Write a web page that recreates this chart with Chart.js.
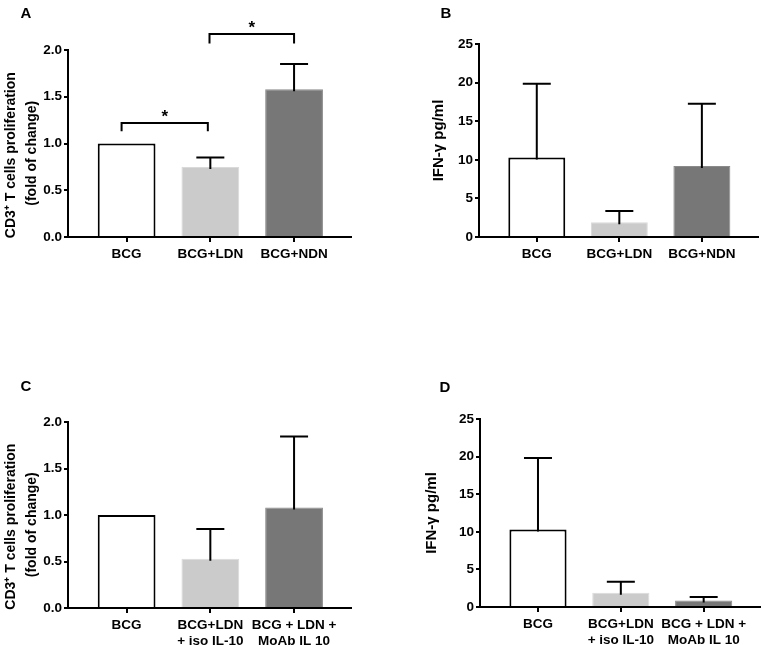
<!DOCTYPE html>
<html><head><meta charset="utf-8">
<script src="https://cdn.jsdelivr.net/npm/chart.js@4.4.1/dist/chart.umd.min.js"></script>
<style>
html,body{margin:0;padding:0;background:#fff;width:765px;height:645px;overflow:hidden}
canvas{position:absolute;left:0;top:0}
</style></head>
<body>
<canvas id="cA" width="765" height="645"></canvas>
<canvas id="cB" width="765" height="645"></canvas>
<canvas id="cC" width="765" height="645"></canvas>
<canvas id="cD" width="765" height="645"></canvas>
<script>
// ---- data ----
const catsTop = ['BCG', 'BCG+LDN', 'BCG+NDN'];
const catsBottom = [['BCG'], ['BCG+LDN', '+ iso IL-10'], ['BCG + LDN +', 'MoAb IL 10']];

const prolifA = [1.0, 0.75, 1.58];
const prolifAErr = [0, 0.10, 0.27];
const ifnB = [10.3, 1.9, 9.2];
const ifnBErr = [9.55, 1.48, 8.05];
const prolifC = [1.0, 0.53, 1.08];
const prolifCErr = [0, 0.32, 0.765];
const ifnD = [10.3, 1.9, 0.85];
const ifnDErr = [9.5, 1.45, 0.48];

// significance brackets for panel A (x in category units, y in axis units)
const bracketsA = [
  {from: 0.94, to: 1.97, y: 1.22, drop: 0.09, label: '*'},
  {from: 1.99, to: 3.0, y: 2.17, drop: 0.10, label: '*'}
];

const prolifTicks = [0, 0.5, 1.0, 1.5, 2.0];
const ifnTicks = [0, 5, 10, 15, 20, 25];

// ---- styles ----
const FONT = "'Liberation Sans', Arial, Helvetica, sans-serif";
const barFill = ['#ffffff', '#cbcbcb', '#777777'];
const barEdge = ['#000000', '#dadada', '#8a8a8a'];
const barEdgeW = [2, 1, 1];

const prolifTitle = ['CD3\u207A T cells proliferation      ', '(fold of change)     '];
const ifnTitle = 'IFN-\u03B3 pg/ml';

const panels = [
  {id: 'cA', letter: 'A', lx: 26, ly: 14, cats: catsTop, vals: prolifA, errs: prolifAErr, ticks: prolifTicks, dec: 1,
   title: prolifTitle, tsize: 14, box: {l: 68, r: 351, t: 50, b: 237}, titleLeft: 0, brackets: bracketsA},
  {id: 'cB', letter: 'B', lx: 446, ly: 14, cats: catsTop, vals: ifnB, errs: ifnBErr, ticks: ifnTicks, dec: 0,
   title: ifnTitle, tsize: 15, box: {l: 479, r: 758, t: 44, b: 237}, titleLeft: 427, brackets: []},
  {id: 'cC', letter: 'C', lx: 26, ly: 387, cats: catsBottom, vals: prolifC, errs: prolifCErr, ticks: prolifTicks, dec: 1,
   title: prolifTitle, tsize: 14, box: {l: 68, r: 351, t: 422, b: 608}, titleLeft: 0, brackets: []},
  {id: 'cD', letter: 'D', lx: 445, ly: 388, cats: catsBottom, vals: ifnD, errs: ifnDErr, ticks: ifnTicks, dec: 0,
   title: ifnTitle, tsize: 15, box: {l: 480, r: 760, t: 419, b: 607}, titleLeft: 420, brackets: []}
];

const W = 765, H = 645;

const overlayPlugin = {
  id: 'overlay',
  afterDraw(chart) {
    const p = chart.options.plugins.overlay;
    const ctx = chart.ctx;
    const xs = chart.scales.x, ys = chart.scales.y;
    ctx.save();
    // error bars (upper only)
    const meta = chart.getDatasetMeta(0);
    ctx.strokeStyle = '#000';
    ctx.lineWidth = 2;
    meta.data.forEach((el, i) => {
      const e = p.errs[i];
      if (!e) return;
      const top = ys.getPixelForValue(p.vals[i] + e);
      ctx.beginPath();
      ctx.moveTo(el.x, el.y + 2);
      ctx.lineTo(el.x, top);
      ctx.moveTo(el.x - 14, top);
      ctx.lineTo(el.x + 14, top);
      ctx.stroke();
    });
    // brackets
    p.brackets.forEach(b => {
      const x1 = xs.getPixelForValue(b.from), x2 = xs.getPixelForValue(b.to);
      const y = ys.getPixelForValue(b.y), yl = ys.getPixelForValue(b.y - b.drop);
      ctx.beginPath();
      ctx.moveTo(x1, yl); ctx.lineTo(x1, y); ctx.lineTo(x2, y); ctx.lineTo(x2, yl);
      ctx.stroke();
      ctx.fillStyle = '#000';
      ctx.font = 'bold 17px ' + FONT;
      ctx.textAlign = 'center';
      ctx.textBaseline = 'alphabetic';
      ctx.fillText(b.label, (x1 + x2) / 2, y - 1);
    });
    // panel letter
    ctx.fillStyle = '#000';
    ctx.font = 'bold 15px ' + FONT;
    ctx.textAlign = 'center';
    ctx.textBaseline = 'middle';
    ctx.fillText(p.letter, p.lx, p.ly);
    ctx.restore();
  }
};

panels.forEach(p => {
  const yW = p.box.l - p.titleLeft;
  const xH = Math.min(60, H - p.box.b);
  new Chart(document.getElementById(p.id), {
    type: 'bar',
    data: {
      datasets: [{
        data: p.vals.map((v, i) => ({x: i + 1, y: v})),
        backgroundColor: barFill,
        borderColor: barEdge,
        borderWidth: barEdgeW,
        barPercentage: 0.69,
        categoryPercentage: 1.0
      }]
    },
    plugins: [overlayPlugin],
    options: {
      responsive: false,
      animation: false,
      devicePixelRatio: 1,
      layout: {padding: {left: p.titleLeft, right: W - p.box.r, top: p.box.t, bottom: H - p.box.b - xH}},
      plugins: {
        legend: {display: false},
        tooltip: {enabled: false},
        overlay: {errs: p.errs, vals: p.vals, brackets: p.brackets, letter: p.letter, lx: p.lx, ly: p.ly}
      },
      scales: {
        x: {
          type: 'linear',
          offset: false,
          min: 0.3, max: 3.68,
          afterFit: s => { s.height = xH; },
          afterBuildTicks: s => { s.ticks = p.cats.map((c, i) => ({value: i + 1})); },
          border: {display: true, color: '#000', width: 2},
          grid: {display: true, offset: false, drawOnChartArea: false, drawTicks: true, tickLength: 5, color: '#000', lineWidth: 2},
          ticks: {
            autoSkip: false, maxRotation: 0, minRotation: 0, padding: 4, color: '#000',
            font: {family: FONT, size: 13.5, weight: 'bold', lineHeight: 1.2},
            callback: v => p.cats[Math.round(v) - 1]
          }
        },
        y: {
          min: 0, max: p.ticks[p.ticks.length - 1],
          afterFit: s => { s.width = yW; },
          afterBuildTicks: s => { s.ticks = p.ticks.map(v => ({value: v})); },
          border: {display: true, color: '#000', width: 2},
          grid: {display: true, drawOnChartArea: false, drawTicks: true, tickLength: 4, color: '#000', lineWidth: 2},
          ticks: {
            padding: 2, color: '#000',
            font: {family: FONT, size: 13.5, weight: 'bold'},
            callback: v => Number(v).toFixed(p.dec)
          },
          title: {
            display: true, text: p.title, color: '#000', padding: 0,
            font: {family: FONT, size: p.tsize, weight: 'bold', lineHeight: 1.55}
          }
        }
      }
    }
  });
});
</script>
</body></html>
